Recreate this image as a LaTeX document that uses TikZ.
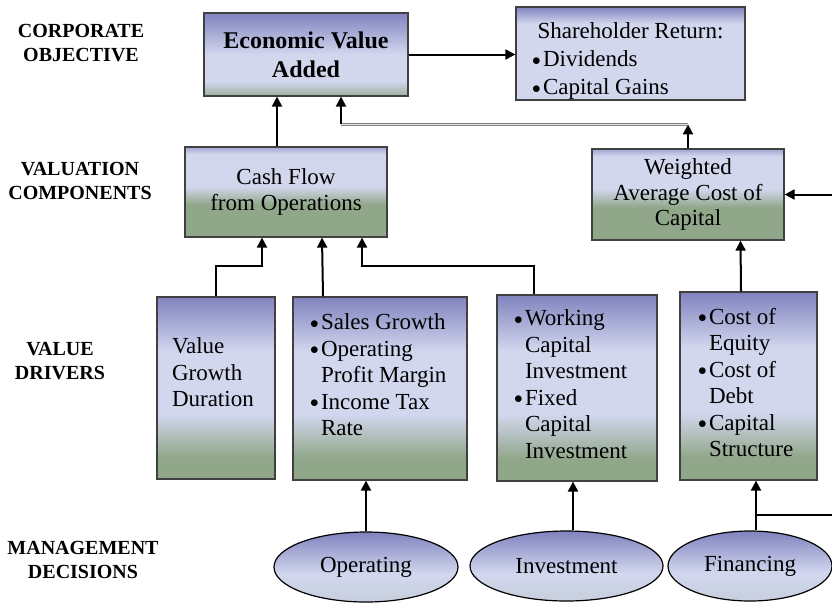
\documentclass[tikz,border=0pt]{standalone}
\usepackage{fontspec}
\setmainfont{Liberation Serif}
\usetikzlibrary{shapes.geometric,arrows.meta}

\definecolor{topblue}{RGB}{128,131,190}
\definecolor{paleblue}{RGB}{210,215,238}
\definecolor{sagegreen}{RGB}{145,167,138}

% vertical shadings, 25bp = bottom of the shape, 75bp = top
\pgfdeclareverticalshading{drvshade}{100bp}{color(0bp)=(sagegreen); color(31bp)=(sagegreen); color(43bp)=(paleblue); color(60bp)=(paleblue); color(75bp)=(topblue); color(100bp)=(topblue)}
\pgfdeclareverticalshading{cfoshade}{100bp}{color(0bp)=(sagegreen); color(43bp)=(sagegreen); color(53bp)=(paleblue); color(71bp)=(paleblue); color(75bp)=(topblue!60!paleblue); color(100bp)=(topblue!60!paleblue)}
\pgfdeclareverticalshading{evashade}{100bp}{color(0bp)=(sagegreen!70!paleblue); color(26bp)=(sagegreen!70!paleblue); color(34bp)=(paleblue); color(50bp)=(paleblue); color(75bp)=(topblue); color(100bp)=(topblue)}
\pgfdeclareverticalshading{shshade}{100bp}{color(0bp)=(paleblue); color(66bp)=(paleblue); color(75bp)=(topblue); color(100bp)=(topblue)}
\pgfdeclareverticalshading{ellshade}{100bp}{color(0bp)=(paleblue!85!sagegreen); color(28bp)=(paleblue!85!sagegreen); color(45bp)=(paleblue); color(75bp)=(topblue); color(100bp)=(topblue)}

\newcommand{\toptext}[3]{\parbox[c][#2][t]{#1}{\raggedright#3}}
\newcommand{\itm}[1]{\par\hangindent=11pt\hangafter=1\noindent\makebox[11pt][l]{\raisebox{1.5pt}{\fontsize{16}{16}\selectfont$\bullet$}}#1}

\begin{document}
\begin{tikzpicture}[x=1pt,y=-1pt,
        every node/.style={font=\fontsize{23}{26.5}\selectfont},
        level/.style={font=\bfseries\fontsize{20}{23.5}\selectfont, align=center},
        box/.style={rectangle, draw=black!75, line width=1.2pt, inner sep=0pt},
        drv/.style={box, shading=drvshade},
        dec/.style={ellipse, draw=black, line width=1.2pt, inner sep=0pt, minimum height=70pt, shading=ellshade},
        link/.style={line width=2pt, -{Triangle[length=10pt,width=10pt]}},
        graylink/.style={draw=gray, line width=0.8pt, double=white!80!gray, double distance=0.9pt}]
    \useasboundingbox (0,0) rectangle (832,603);
    \clip (0,0) rectangle (832,603);
    % level names
    \node[level] (corp) at (81,43) {CORPORATE\\OBJECTIVE};
    \node[level] (valc) at (80,181) {VALUATION\\COMPONENTS};
    \node[level] (vdrv) at (60,361) {VALUE\\DRIVERS};
    \node[level] (mgmt) at (83,560) {MANAGEMENT\\DECISIONS};
    % objective
    \node[box, shading=evashade, minimum width=204pt, minimum height=83pt, align=center,
          font=\bfseries\fontsize{24}{29}\selectfont] (eva) at (306,54.5) {Economic Value\\Added};
    \node[box, shading=shshade, minimum width=229pt, minimum height=93pt] (share) at (630.5,53.5)
        {\toptext{197pt}{61pt}{\fontsize{23}{28}\selectfont\makebox[\linewidth]{Shareholder Return:}\itm{Dividends}\itm{Capital Gains}}};
    % valuation components
    \node[box, shading=cfoshade, minimum width=202pt, minimum height=90pt, align=center] (cfo) at (286,192) {Cash Flow\\from Operations};
    \node[box, shading=cfoshade, minimum width=192pt, minimum height=91pt, align=center,
          font=\fontsize{23}{25.5}\selectfont] (wacc) at (688,194.5) {Weighted\\Average Cost of\\Capital};
    % value drivers
    \node[drv, minimum width=118pt, minimum height=182pt] (vgd) at (216,388)
        {\toptext{88pt}{100pt}{Value\newline Growth\newline Duration}};
    \node[drv, minimum width=174pt, minimum height=183pt] (sales) at (380,388.5)
        {\toptext{140pt}{149pt}{\itm{Sales Growth}\itm{Operating\newline Profit Margin}\itm{Income Tax\newline Rate}}};
    \node[drv, minimum width=160pt, minimum height=186pt] (invb) at (577,388)
        {\toptext{126pt}{156pt}{\itm{Working\newline Capital\newline Investment}\itm{Fixed\newline Capital\newline Investment}}};
    \node[drv, minimum width=137pt, minimum height=188pt] (finb) at (748.5,386)
        {\toptext{101pt}{156pt}{\itm{Cost of\newline Equity}\itm{Cost of\newline Debt}\itm{Capital\newline Structure}}};
    % management decisions
    \node[dec, minimum width=184pt] (opd) at (366,567) {Operating};
    \node[dec, minimum width=193pt] (invd) at (566.5,566) {Investment};
    \node[dec, minimum width=164pt] (find) at (750,566) {Financing};
    % connectors
    \draw[link] (eva.east) -- (eva.east -| share.west);
    \draw[link] ([xshift=-9pt]cfo.north) -- ([xshift=-29pt]eva.south);
    \coordinate (evain) at ([xshift=35pt]eva.south);
    \draw[link] (wacc.north) -- ++(0,-24) coordinate (wacctop);
    \draw[graylink] (wacctop) -- (wacctop -| evain);
    \draw[link] (wacctop -| evain) -- (evain);
    \draw[link] (vgd.north) -- ++(0,-30) -| ([xshift=-24pt]cfo.south);
    \draw[link] ([xshift=-57pt]sales.north) -- ([xshift=36pt]cfo.south);
    \draw[link] ([xshift=-43pt]invb.north) -- ++(0,-28) -| ([xshift=76pt]cfo.south);
    \draw[link] ([xshift=-7.5pt]finb.north) -- ([xshift=52.5pt]wacc.south);
    \draw[link] (opd.north) -- (opd.north |- sales.south);
    \draw[link] ([xshift=6.5pt]invd.north) -- ([xshift=-4pt]invb.south);
    \draw[link] ([xshift=6pt]find.north) -- ([xshift=7.5pt]finb.south);
    \draw[link] ([xshift=6pt,yshift=15pt]find.north) -- ++(90,0) |- (wacc.east);
\end{tikzpicture}
\end{document}
